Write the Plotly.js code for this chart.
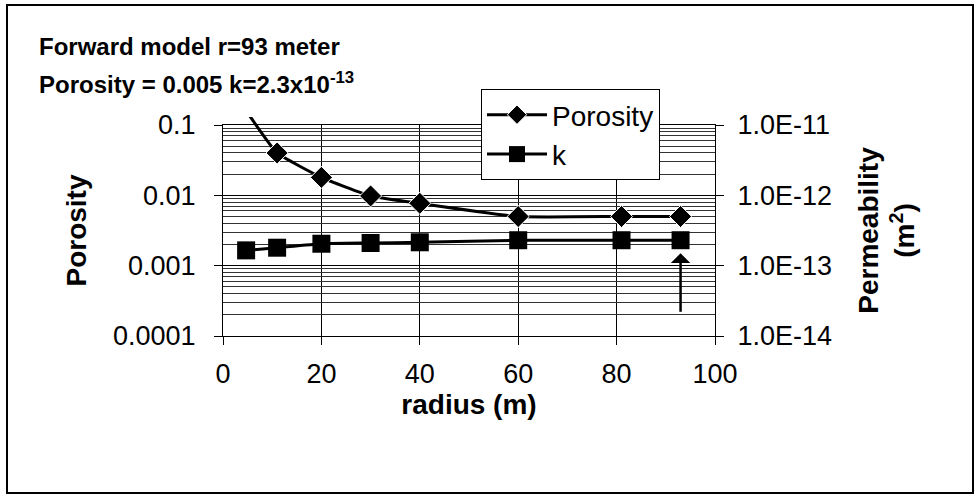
<!DOCTYPE html>
<html>
<head>
<meta charset="utf-8">
<script src="https://cdn.plot.ly/plotly-3.0.1.min.js"></script>
<style>
  html, body { margin: 0; padding: 0; background: #ffffff; }
  #chart { position: absolute; left: 0; top: 0; width: 979px; height: 497px; }
  #frame { position: absolute; left: 6px; top: 4px; width: 964px; height: 486px;
           border: 2px solid #000; pointer-events: none; }
</style>
</head>
<body>
<div id="chart"></div>
<div id="frame"></div>
<script>
// ---- data ----
const radius   = [4.7, 11, 20, 30, 40, 60, 81, 93];
const porosity = [0.16, 0.040, 0.018, 0.0098, 0.0077, 0.0050, 0.0050, 0.0050];
const perm     = [1.65e-13, 1.8e-13, 2.05e-13, 2.1e-13, 2.15e-13, 2.3e-13, 2.3e-13, 2.3e-13];

const porosityTickVals = [0.0001, 0.001, 0.01, 0.1];
const porosityTickText = ['0.0001', '0.001', '0.01', '0.1'];
const permTickVals = [1e-14, 1e-13, 1e-12, 1e-11];
const permTickText = ['1.0E-14', '1.0E-13', '1.0E-12', '1.0E-11'];

const titleLine1 = 'Forward model r=93 meter';
const titleLine2 = 'Porosity = 0.005 k=2.3x10<sup>-13</sup>';

// ---- layout geometry (pixels) ----
const W = 979, H = 497;
const L = 223, R = 715, TOP_MAIN = 125, TOP_EXT = 117, BOT = 336;
const plotW = R - L, plotH = BOT - TOP_EXT;
const mainTop = (BOT - TOP_MAIN) / plotH;
const pxPerDecade = (BOT - TOP_MAIN) / 3;
const extDecades = (TOP_MAIN - TOP_EXT) / pxPerDecade;
const px2x = p => (p - L) / plotW;
const px2y = p => (BOT - p) / plotH;

// minor log gridline positions (2..9 in each decade of the left axis)
const minorGrid = [];
for (let d = -4; d < -1; d++) {
  for (let m = 2; m <= 9; m++) minorGrid.push(m * Math.pow(10, d));
}

const FONT = '"Liberation Sans", Arial, sans-serif';
const TICK = 27, AXT = 28;

const porSizes = porosity.map(v => (v > 0.1 ? 0 : 17));

const ghost = { mode: 'markers', marker: { opacity: 0, size: 1 }, showlegend: false, hoverinfo: 'skip' };

const traces = [
  Object.assign({ x: radius, y: porosity, xaxis: 'x', yaxis: 'y' }, ghost),
  Object.assign({ x: radius, y: porosity, xaxis: 'x', yaxis: 'y4' }, ghost),
  {
    x: radius, y: porosity, name: 'Porosity',
    xaxis: 'x3', yaxis: 'y3',
    mode: 'lines+markers',
    line: { color: '#000', width: 3, shape: 'spline', smoothing: 0.4 },
    marker: { symbol: 'diamond', size: porSizes, color: '#000', opacity: 1 }
  },
  {
    x: radius, y: perm, name: 'k',
    xaxis: 'x', yaxis: 'y2',
    mode: 'lines+markers',
    line: { color: '#000', width: 3, shape: 'spline', smoothing: 0.4 },
    marker: { symbol: 'square', size: 18, color: '#000', opacity: 1 }
  }
];

const layout = {
  width: W, height: H,
  margin: { l: L, r: W - R, t: TOP_EXT, b: H - BOT },
  paper_bgcolor: '#ffffff',
  plot_bgcolor: 'rgba(0,0,0,0)',
  font: { family: FONT, color: '#000', size: TICK },
  showlegend: true,
  legend: {
    x: px2x(481), y: px2y(89), xanchor: 'left', yanchor: 'top',
    bgcolor: '#ffffff', bordercolor: '#000', borderwidth: 1,
    font: { family: FONT, size: 28, color: '#000' },
    itemwidth: 60
  },
  xaxis: {
    domain: [0, 1], anchor: 'y',
    range: [0, 100], dtick: 20, tick0: 0,
    showline: true, linecolor: '#000', linewidth: 1, mirror: true,
    showgrid: true, gridcolor: '#000', gridwidth: 1,
    zeroline: false,
    ticks: 'outside', ticklen: 8, tickcolor: '#000',
    ticklabelstandoff: 6,
    tickfont: { family: FONT, size: TICK },
    title: { text: '<b>radius (m)</b>', font: { family: FONT, size: AXT }, standoff: 0 }
  },
  yaxis: {
    domain: [0, mainTop], anchor: 'x',
    type: 'log', range: [-4, -1],
    tickmode: 'array', tickvals: porosityTickVals, ticktext: porosityTickText,
    showline: true, linecolor: '#000', linewidth: 1,
    showgrid: true, gridcolor: '#000', gridwidth: 1.5,
    zeroline: false,
    ticks: 'outside', ticklen: 8, tickcolor: '#000',
    ticklabelstandoff: 13,
    tickfont: { family: FONT, size: TICK },
    title: { text: '<b>Porosity</b>', font: { family: FONT, size: AXT }, standoff: 18 }
  },
  yaxis4: {
    domain: [0, mainTop], anchor: 'x', overlaying: 'y', side: 'left',
    type: 'log', range: [-4, -1],
    tickmode: 'array', tickvals: minorGrid,
    showticklabels: false, ticks: '',
    showline: false, zeroline: false,
    showgrid: true, gridcolor: '#333', gridwidth: 1
  },
  yaxis2: {
    domain: [0, mainTop], anchor: 'x', overlaying: 'y', side: 'right',
    type: 'log', range: [-14, -11],
    tickmode: 'array', tickvals: permTickVals, ticktext: permTickText,
    showline: true, linecolor: '#000', linewidth: 1,
    showgrid: false, zeroline: false,
    ticks: 'outside', ticklen: 8, tickcolor: '#000',
    ticklabelstandoff: 8,
    tickfont: { family: FONT, size: TICK },
    title: { text: '<b>Permeability<br>(m<sup>2</sup>)</b>', font: { family: FONT, size: AXT }, standoff: 27 }
  },
  xaxis3: {
    domain: [0, 1], anchor: 'y3', range: [0, 100], visible: false, showgrid: false, zeroline: false
  },
  yaxis3: {
    domain: [0, 1], anchor: 'x3', type: 'log', range: [-4, -1 + extDecades],
    visible: false, showgrid: false, zeroline: false
  },
  annotations: [
    {
      xref: 'paper', yref: 'paper', x: px2x(37), y: px2y(47),
      xanchor: 'left', yanchor: 'middle', showarrow: false,
      text: '<b>' + titleLine1 + '</b>', font: { family: FONT, size: 24, color: '#000' }
    },
    {
      xref: 'paper', yref: 'paper', x: px2x(37), y: px2y(83),
      xanchor: 'left', yanchor: 'middle', showarrow: false,
      text: '<b>' + titleLine2 + '</b>', font: { family: FONT, size: 24, color: '#000' }
    },
    {
      xref: 'x', yref: 'y2',
      x: radius[radius.length - 1], y: Math.log10(perm[perm.length - 1]),
      axref: 'pixel', ayref: 'pixel', ax: 0, ay: 73,
      showarrow: true, arrowhead: 1, arrowsize: 1.3, arrowwidth: 2.5,
      arrowcolor: '#000', standoff: 13, text: ''
    }
  ]
};

Plotly.newPlot('chart', traces, layout, { staticPlot: true, displayModeBar: false });
</script>
</body>
</html>
